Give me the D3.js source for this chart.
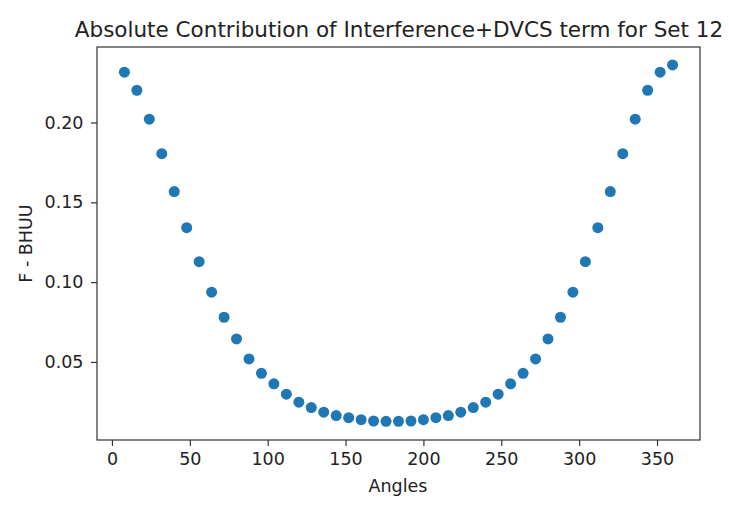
<!DOCTYPE html>
<meta charset="utf-8">
<style>
    body { margin: 0; background: #fff; }
    text { font-family: "DejaVu Sans", sans-serif; fill: #222; }
    .axis path, .axis line { stroke: #333; stroke-width: 1.2px; }
    .axis text { font-size: 17.5px; fill: #222; }
</style>
<body>
<div id="d3_target"></div>
<script src="https://d3js.org/d3.v7.min.js"></script>
<script>
    // angles 8..360 step 8 (45 points)
    var angles = [8, 16, 24, 32, 40, 48, 56, 64, 72, 80, 88, 96, 104, 112, 120,
        128, 136, 144, 152, 160, 168, 176, 184, 192, 200, 208, 216, 224, 232, 240,
        248, 256, 264, 272, 280, 288, 296, 304, 312, 320, 328, 336, 344, 352, 360];
    var bhuu = [0.2315, 0.2202, 0.2021, 0.1805, 0.1567, 0.1341, 0.1128, 0.0937, 0.0780,
        0.0644, 0.0519, 0.0429, 0.0363, 0.0298, 0.0248, 0.0214, 0.0185, 0.0164, 0.0151,
        0.0138, 0.0130, 0.0128, 0.0128, 0.0130, 0.0138, 0.0151, 0.0164, 0.0185, 0.0214,
        0.0248, 0.0298, 0.0363, 0.0429, 0.0519, 0.0644, 0.0780, 0.0937, 0.1128, 0.1341,
        0.1567, 0.1805, 0.2021, 0.2202, 0.2315, 0.2361];
    var xTicks = [0, 50, 100, 150, 200, 250, 300, 350];
    var yTicks = [0.05, 0.10, 0.15, 0.20];

    var width = 729,
        height = 505,
        margin = {left: 97, right: 29, top: 47, bottom: 65};

    var svg = d3.select("#d3_target").append("svg")
        .attr("width", width)
        .attr("height", height);

    var x = d3.scaleLinear().domain([-9.6, 377.6]).range([margin.left, width - margin.right]);
    var y = d3.scaleLinear().domain([0.0011, 0.2473]).range([height - margin.bottom, margin.top]);

    var points = angles.map(function (a, i) { return {a: a, v: bhuu[i]}; });

    svg.selectAll(".dot")
        .data(points)
        .enter().append("circle")
        .attr("class", "dot")
        .attr("cx", function (d) { return x(d.a); })
        .attr("cy", function (d) { return y(d.v); })
        .attr("r", 5.5)
        .style("fill", "#1f77b4");

    // frame
    svg.append("rect")
        .attr("x", margin.left)
        .attr("y", margin.top)
        .attr("width", width - margin.right - margin.left)
        .attr("height", height - margin.bottom - margin.top)
        .style("fill", "none")
        .style("stroke", "#333")
        .style("stroke-width", 1.2);

    svg.append("g")
        .attr("class", "axis")
        .attr("transform", "translate(0," + (height - margin.bottom) + ")")
        .call(d3.axisBottom(x).tickValues(xTicks).tickSize(6).tickPadding(7).tickSizeOuter(0))
        .call(function (g) { g.select(".domain").remove(); });

    svg.append("g")
        .attr("class", "axis")
        .attr("transform", "translate(" + margin.left + ",0)")
        .call(d3.axisLeft(y).tickValues(yTicks).tickFormat(d3.format(".2f")).tickSize(6).tickPadding(7.5))
        .call(function (g) { g.select(".domain").remove(); });

    svg.append("text")
        .attr("x", 398)
        .attr("y", 492)
        .attr("text-anchor", "middle")
        .style("font-size", "17.5px")
        .text("Angles");

    svg.append("text")
        .attr("transform", "translate(32," + ((margin.top + height - margin.bottom) / 2) + ") rotate(-90)")
        .attr("text-anchor", "middle")
        .style("font-size", "17.5px")
        .text("F - BHUU");

    svg.append("text")
        .attr("x", 399)
        .attr("y", 37)
        .attr("text-anchor", "middle")
        .style("font-size", "21.5px")
        .text("Absolute Contribution of Interference+DVCS term for Set 12");
</script>
</body>
